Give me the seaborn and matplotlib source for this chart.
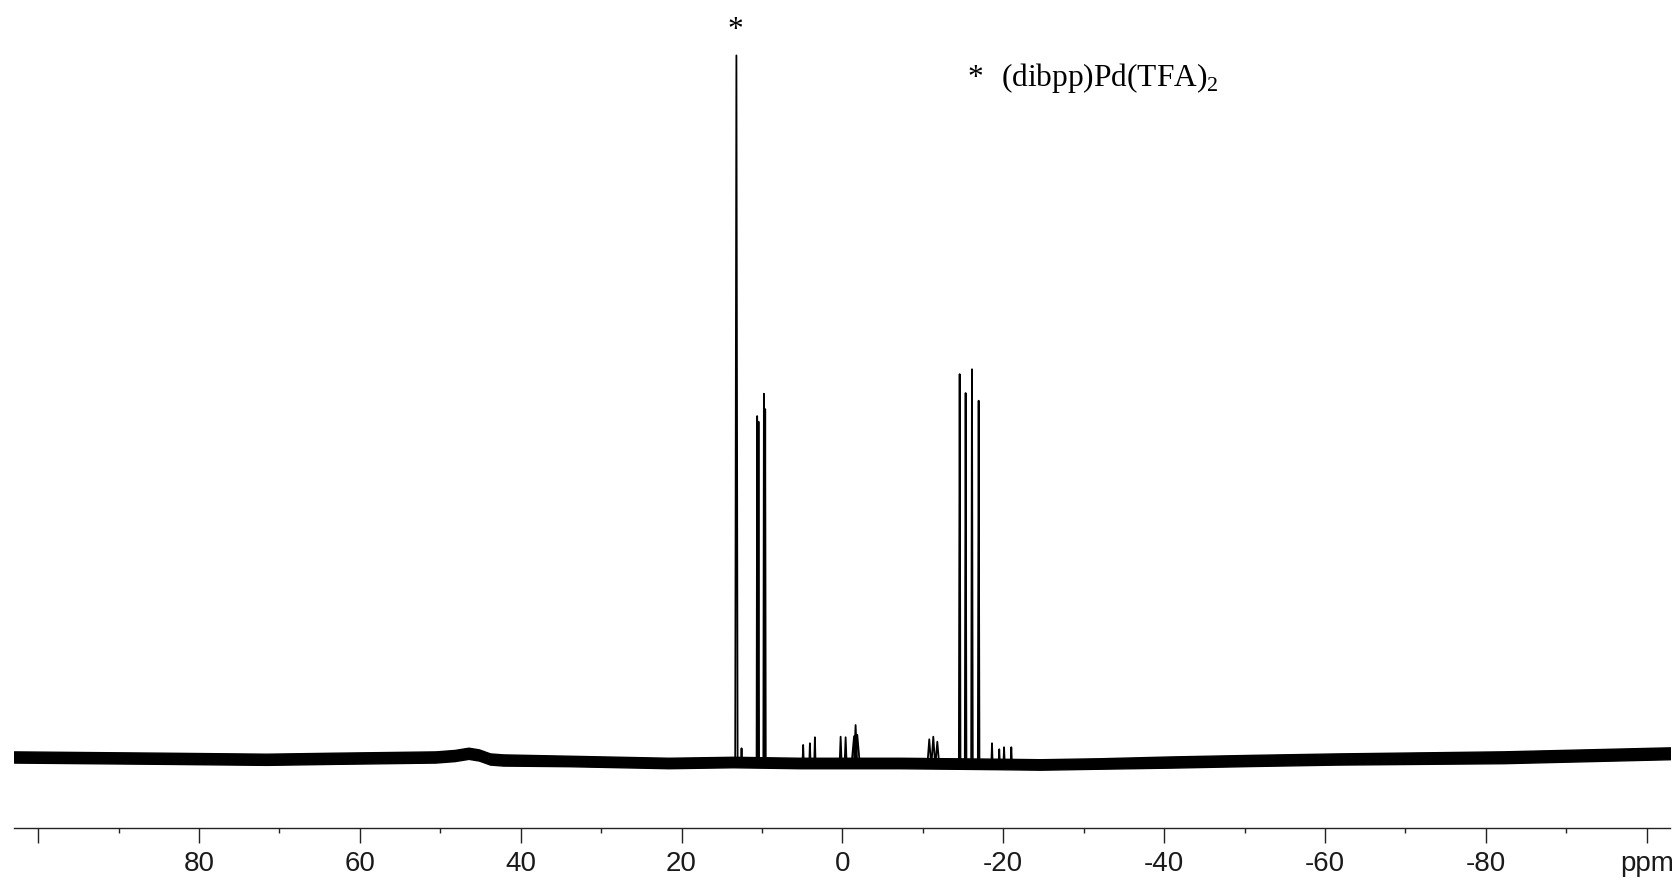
import numpy as np
import pandas as pd
import matplotlib
matplotlib.use("Agg")
import matplotlib.pyplot as plt
import seaborn as sns
from matplotlib.ticker import FixedLocator, MultipleLocator, NullFormatter

# ---- data (31P NMR spectrum, intensity: tallest peak ~ 100) ----
base_ppm = [103.0, 84.0, 71.6, 63.4, 50.6, 48.2, 46.5, 45.2, 43.8, 42.2, 34.0, 21.6,
            13.6, 5.3, -7.2, -19.6, -24.6, -32.0, -40.9, -50.7, -61.4, -82.2, -94.2, -102.9]
base_level = [0.43, 0.24, 0.10, 0.24, 0.43, 0.64, 0.96, 0.72, 0.14, 0.0, -0.14, -0.43,
              -0.29, -0.43, -0.43, -0.57, -0.64, -0.50, -0.29, -0.07, 0.14, 0.39, 0.72, 0.96]
noise_half = [0.8, 0.8, 0.8, 0.8, 0.8, 0.8, 0.8, 0.8, 0.8, 0.8, 0.75, 0.75,
              0.75, 0.75, 0.75, 0.75, 0.75, 0.75, 0.8, 0.8, 0.8, 0.85, 0.85, 0.85]

peak_ppm = [13.18, 12.54, 10.60, 10.43, 9.76, 9.60, 4.88, 4.04, 3.42, 0.22, -0.40, -1.45,
            -1.64, -1.85, -10.8, -11.3, -11.8, -14.58, -15.32, -16.11, -16.94, -18.6, -19.5,
            -20.1, -21.0]
peak_top = [100.8, 1.67, 49.2, 48.4, 52.4, 50.2, 2.15, 2.39, 3.25, 3.33, 3.25, 3.4,
            5.0, 3.6, 2.96, 3.33, 2.62, 55.2, 52.5, 55.9, 51.4, 2.39, 1.53, 1.82, 1.82]
peak_hw = [0.15, 0.08, 0.07, 0.07, 0.07, 0.07, 0.08, 0.08, 0.08, 0.12, 0.12, 0.3,
           0.2, 0.3, 0.22, 0.22, 0.22, 0.1, 0.1, 0.1, 0.1, 0.08, 0.08, 0.08, 0.08]

major_ticks = [100, 80, 60, 40, 20, 0, -20, -40, -60, -80, -100]
tick_labels = ["", "80", "60", "40", "20", "0", "-20", "-40", "-60", "-80", "ppm"]
peak_mark = "*"
legend_mark = "*"
legend_text = "(dibpp)Pd(TFA)$_2$"

# ---- build the spectrum trace from the peak list ----
bp = np.array(base_ppm)[::-1]
bl = np.array(base_level)[::-1]
xs, ys = [], []
for p, t, w in zip(peak_ppm, peak_top, peak_hw):
    for xx, yy in ((p + w, None), (p, t), (p - w, None)):
        xs.append(xx)
        ys.append(np.interp(xx, bp, bl) if yy is None else yy)
trace = pd.DataFrame({"ppm": xs, "intensity": ys})
band = pd.DataFrame({"ppm": base_ppm, "level": base_level, "half": noise_half})

# ---- figure ----
sns.set_theme(style="white")
plt.rcParams["font.family"] = ["Liberation Sans", "DejaVu Sans"]
plt.rcParams["mathtext.fontset"] = "custom"
plt.rcParams["mathtext.rm"] = "Liberation Serif"

fig = plt.figure(figsize=(16.76, 8.85), dpi=100)
ax = fig.add_axes([14 / 1676, (885 - 828) / 885, 1656 / 1676, 828 / 885])

ax.fill_between(band["ppm"], band["level"] - band["half"], band["level"] + band["half"],
                color="black", linewidth=1.0, edgecolor="black")
sns.lineplot(data=trace, x="ppm", y="intensity", sort=False, estimator=None,
             color="black", linewidth=1.3, ax=ax)

ax.set_xlim(103.0, -102.9)
ax.set_ylim(-9.73, 108.73)

for s in ("left", "right", "top"):
    ax.spines[s].set_visible(False)
ax.spines["bottom"].set_color("#222222")
ax.spines["bottom"].set_linewidth(1.0)
ax.set_yticks([])
ax.xaxis.set_major_locator(FixedLocator(major_ticks))
ax.set_xticklabels(tick_labels)
ax.xaxis.set_minor_locator(MultipleLocator(10))
ax.xaxis.set_minor_formatter(NullFormatter())
ax.tick_params(axis="x", which="major", direction="out", length=10.8, width=1.0,
               color="#222222", labelsize=20, labelcolor="#1a1a1a", pad=6, bottom=True)
ax.tick_params(axis="x", which="minor", direction="out", length=3.6, width=1.0,
               color="#222222", bottom=True)
ax.set_xlabel("")
ax.set_ylabel("")

serif = ["Liberation Serif", "DejaVu Serif"]
ax.text(13.37, 103.35, peak_mark, ha="center", va="baseline", fontsize=22.6,
        family=serif, color="black")
ax.text(-16.48, 96.4, legend_mark, ha="center", va="baseline", fontsize=22.6,
        family=serif, color="black")
ax.text(-19.7, 96.4, legend_text, ha="left", va="baseline", fontsize=22.6,
        family=serif, color="black")

fig.savefig("out.png", dpi=100, facecolor="white")
